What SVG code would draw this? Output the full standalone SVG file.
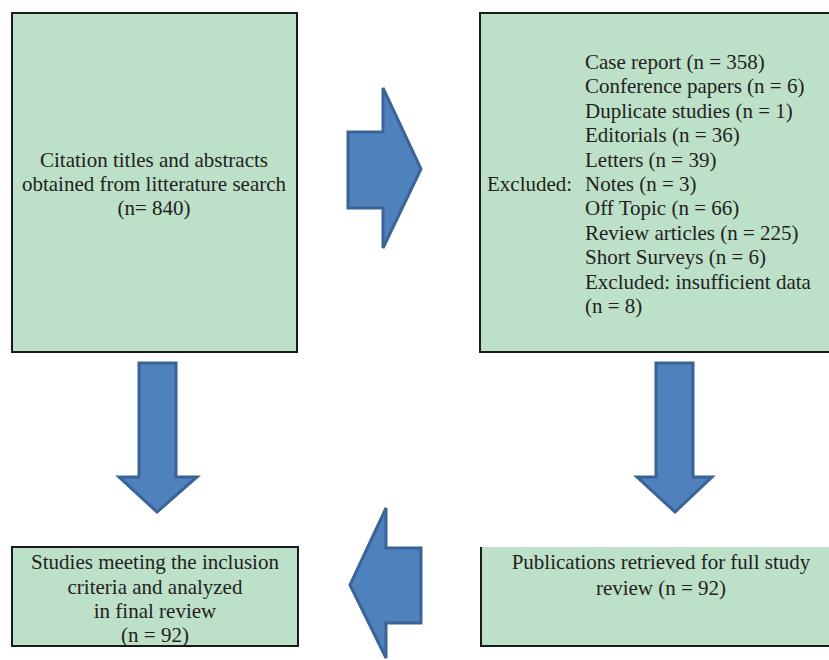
<svg xmlns="http://www.w3.org/2000/svg" width="829" height="660" viewBox="0 0 829 660">
<style>
.box{fill:#bde0c9;}
.edge{stroke:#1a1a1a;stroke-width:2;fill:none;}
.t{font-family:"Liberation Serif","Times New Roman",serif;font-size:21px;fill:#231f20;}
.c{text-anchor:middle;}
.arr{fill:#4f81bd;stroke:#3a6497;stroke-width:3;stroke-linejoin:miter;}
</style>
<rect width="829" height="660" fill="#ffffff"/>
<g id="search">
<rect class="box" x="12" y="13" width="285" height="339"/>
<rect class="edge" x="12" y="13" width="285" height="339"/>
<text class="t c" x="154" y="167">Citation titles and abstracts</text>
<text class="t c" x="154" y="191">obtained from litterature search</text>
<text class="t c" x="154" y="215">(n= 840)</text>
</g>
<g id="excluded">
<rect class="box" x="480" y="13" width="349" height="339"/>
<path class="edge" d="M829 13 H480 V352 H829"/>
<text class="t" x="487" y="191">Excluded:</text>
<text class="t" x="585" y="69">Case report (n = 358)</text>
<text class="t" x="585" y="93.4">Conference papers (n = 6)</text>
<text class="t" x="585" y="117.8">Duplicate studies (n = 1)</text>
<text class="t" x="585" y="142.2">Editorials (n = 36)</text>
<text class="t" x="585" y="166.6">Letters (n = 39)</text>
<text class="t" x="585" y="191">Notes (n = 3)</text>
<text class="t" x="585" y="215.4">Off Topic (n = 66)</text>
<text class="t" x="585" y="239.8">Review articles (n = 225)</text>
<text class="t" x="585" y="264.2">Short Surveys (n = 6)</text>
<text class="t" x="585" y="288.6">Excluded: insufficient data</text>
<text class="t" x="585" y="313">(n = 8)</text>
</g>
<g id="retrieved">
<rect class="box" x="481" y="547" width="348" height="99"/>
<path class="edge" d="M481 547 V646 H829"/>
<text class="t c" x="661" y="569">Publications retrieved for full study</text>
<text class="t c" x="661" y="595">review (n = 92)</text>
</g>
<g id="included">
<rect class="box" x="12" y="547" width="286" height="99"/>
<rect class="edge" x="12" y="547" width="286" height="99"/>
<text class="t c" x="155" y="569">Studies meeting the inclusion</text>
<text class="t c" x="155" y="594">criteria and analyzed</text>
<text class="t c" x="155" y="618">in final review</text>
<text class="t c" x="155" y="642">(n = 92)</text>
</g>
<g id="connectors">
<polygon class="arr" points="348,132 383,132 383,88 421,169 383,248 383,208 348,208"/>
<polygon class="arr" points="139,363 176,363 176,477 197,477 157,512 119,477 139,477"/>
<polygon class="arr" points="656,363 693,363 693,477 712,477 675,512 637,477 656,477"/>
<polygon class="arr" points="421,548 386,548 386,508 350,585 386,658 386,623 421,623"/>
</g>
</svg>
